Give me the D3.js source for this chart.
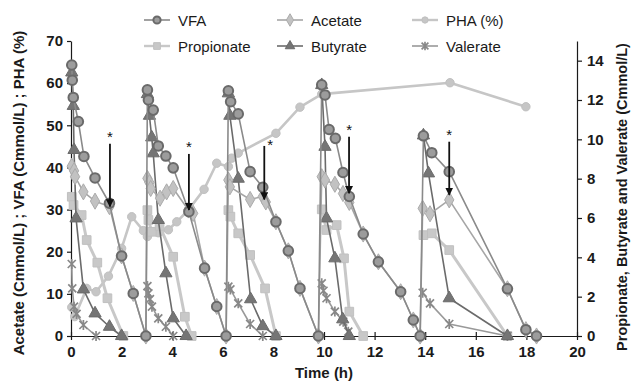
<!DOCTYPE html>
<html>
<head>
<meta charset="utf-8">
<script src="https://cdn.jsdelivr.net/npm/d3@7"></script>
<style>
  body { margin: 0; background: #fff; }
  svg { font-family: "Liberation Sans", Arial, sans-serif; }
  .axis text { font-size: 15px; font-weight: bold; fill: #1a1a1a; }
  .axis path, .axis line { stroke: #1a1a1a; stroke-width: 1.2; }
  .title { font-size: 15px; font-weight: bold; fill: #1a1a1a; }
  .legend text { font-size: 15px; fill: #1a1a1a; }
</style>
</head>
<body>
<div id="chart"></div>
<script>
// --- data (time h, value) ---
// left axis series
const vfa = [
  [0.03, 64.3], [0.05, 60.7], [0.09, 56.6], [0.29, 50.9], [0.51, 42.6], [0.95, 37.5], [1.52, 31.5],
  [2.0, 19.0], [2.46, 10.1], [2.96, 0],
  [3.02, 58.4], [3.06, 56.0], [3.25, 53.6], [3.45, 45.1], [3.75, 42.7], [4.04, 39.9], [4.66, 29.5],
  [5.28, 16.1], [5.76, 7.0], [6.13, 0],
  [6.22, 58.2], [6.31, 55.6], [6.61, 52.7], [7.08, 39.0], [7.58, 35.3], [8.1, 27.1], [8.59, 20.2],
  [9.05, 11.3], [9.78, 0],
  [9.91, 59.6], [10.04, 57.2], [10.2, 49.0], [10.45, 46.9], [10.75, 38.8], [11.0, 33.1],
  [11.55, 24.2], [12.15, 17.6], [13.03, 10.5], [13.53, 3.8], [13.8, 0],
  [13.93, 47.5], [14.26, 43.5], [14.95, 39.0], [17.25, 11.2], [17.98, 1.5], [18.4, 0]
];
const acetate = [
  [0.03, 40.3], [0.12, 39.2], [0.16, 37.8], [0.49, 34.2], [0.95, 32.0], [1.52, 30.7],
  [2.0, 19.0], [2.46, 10.1], [2.96, 0],
  [3.02, 37.4], [3.1, 36.4], [3.15, 35.0], [3.52, 32.7], [3.78, 34.2], [4.04, 35.0], [4.64, 29.9],
  [4.83, 29.1], [5.28, 16.1], [5.76, 7.0], [6.13, 0],
  [6.22, 37.0], [6.28, 35.4], [7.08, 32.4], [7.58, 33.1], [7.7, 31.8], [8.1, 27.1], [8.59, 20.2],
  [9.05, 11.3], [9.78, 0],
  [9.91, 37.8], [10.04, 37.0], [10.43, 36.0], [10.75, 33.8], [11.0, 31.7],
  [11.55, 24.2], [12.15, 17.6], [13.03, 10.5], [13.53, 3.8], [13.8, 0],
  [13.9, 30.3], [14.19, 29.0], [14.95, 32.3], [17.25, 11.2], [17.98, 1.5], [18.4, 0]
];
const pha = [
  [0.03, 6.8], [0.15, 4.6], [0.62, 11.3], [0.99, 10.5], [1.48, 14.2], [2.0, 20.8], [2.4, 28.3],
  [2.86, 25.0], [3.02, 23.6], [3.45, 24.5], [3.85, 25.2], [4.18, 27.1], [4.64, 29.9], [5.26, 34.8],
  [5.76, 41.0], [6.22, 40.2], [6.35, 42.2], [6.61, 43.4], [8.1, 48.1], [9.05, 54.3], [9.91, 57.4],
  [14.98, 60.1], [17.98, 54.4]
];
// right axis series, one list per feeding cycle
const propionate = [
  [[0.03, 7.08], [0.1, 6.66], [0.42, 6.15], [0.62, 4.88], [1.04, 3.73], [1.44, 1.92], [2.07, 0]],
  [[3.02, 6.4], [3.06, 5.9], [3.19, 5.3], [3.5, 5.6], [4.04, 4.03], [4.5, 0.98], [4.77, 0]],
  [[6.22, 6.4], [6.3, 6.07], [6.61, 5.22], [7.08, 4.12], [7.67, 2.42], [8.1, 0]],
  [[9.91, 6.44], [10.1, 5.39], [10.5, 5.64], [10.79, 3.95], [11.0, 1.24], [11.55, 0]],
  [[13.93, 5.13], [14.26, 5.22], [14.95, 4.37], [17.25, 0]]
];
const butyrate = [
  [[0.03, 13.4], [0.09, 11.7], [0.12, 9.46], [0.2, 5.98], [0.49, 2.37], [0.95, 1.15], [1.52, 0.47], [2.0, 0]],
  [[3.02, 12.3], [3.1, 11.2], [3.19, 10.1], [3.25, 9.29], [3.45, 5.9], [3.75, 3.19], [4.04, 0.9], [4.55, 0]],
  [[6.22, 12.34], [6.28, 11.2], [6.61, 8.0], [7.1, 1.87], [7.58, 0.5], [8.1, 0]],
  [[9.91, 12.76], [10.04, 9.62], [10.1, 5.98], [10.43, 3.95], [10.74, 0.85], [11.0, 0]],
  [[13.93, 10.2], [14.13, 8.27], [14.95, 1.92], [17.25, 0]]
];
const valerate = [
  [[0.03, 3.66], [0.05, 2.42], [0.12, 1.49], [0.22, 1.12], [0.49, 0.56], [0.99, 0]],
  [[3.02, 2.54], [3.06, 2.17], [3.12, 1.87], [3.2, 1.49], [3.45, 0.9], [3.75, 0.47], [4.04, 0]],
  [[6.22, 2.51], [6.3, 2.37], [6.61, 1.66], [7.08, 0.61], [7.58, 0]],
  [[9.91, 2.68], [9.98, 2.3], [10.1, 1.92], [10.43, 1.24], [10.76, 0.73], [10.96, 0.22]],
  [[13.9, 2.2], [14.19, 1.66], [14.95, 0.61], [17.25, 0]]
];
// sampling arrows (time, from value, to value) on left axis
const arrows = [[1.54, 45.6, 30.7], [4.66, 43.2, 29.9], [7.64, 45.1, 32.4], [10.99, 47.3, 33.9], [14.95, 46.1, 33.5]];

const xTicks = d3.range(0, 21, 2);
const yLeftTicks = d3.range(0, 71, 10);
const yRightTicks = d3.range(0, 15, 2);

const W = 633, H = 384;
const margin = { top: 41, right: 56, bottom: 48, left: 71 };

const svg = d3.select('#chart').append('svg')
  .attr('width', W).attr('height', H);

const x = d3.scaleLinear().domain([0, 20]).range([margin.left, W - margin.right]);
const yL = d3.scaleLinear().domain([0, 70]).range([H - margin.bottom, margin.top]);
const yR = d3.scaleLinear().domain([0, 15]).range([H - margin.bottom, margin.top]);

// axes
const gx = svg.append('g').attr('class', 'axis')
  .attr('transform', `translate(0,${H - margin.bottom})`)
  .call(d3.axisBottom(x).tickValues(xTicks).tickSize(4).tickPadding(6).tickSizeOuter(0));
gx.selectAll('.tick line').attr('y1', -4);

svg.append('g').attr('class', 'axis')
  .attr('transform', `translate(${margin.left},0)`)
  .call(d3.axisLeft(yL).tickValues(yLeftTicks).tickSize(4).tickPadding(4).tickSizeOuter(0));

svg.append('g').attr('class', 'axis')
  .attr('transform', `translate(${W - margin.right},0)`)
  .call(d3.axisRight(yR).tickValues(yRightTicks).tickSize(5).tickPadding(5).tickSizeOuter(0));

// axis titles
svg.append('text').attr('class', 'title')
  .attr('x', x(10)).attr('y', H - 6)
  .attr('text-anchor', 'middle').text('Time (h)');
svg.append('text').attr('class', 'title')
  .attr('transform', `translate(24,${193}) rotate(-90)`)
  .attr('text-anchor', 'middle').text('Acetate (Cmmol/L) ; VFA (Cmmol/L) ; PHA (%)');
svg.append('text').attr('class', 'title')
  .style('font-size', '14.5px')
  .attr('transform', `translate(627,${197}) rotate(-90)`)
  .attr('text-anchor', 'middle').text('Propionate, Butyrate and Valerate (Cmmol/L)');

// markers
const asteriskPath = s => {
  const a = s * 0.8, b = s;
  return `M${-a},${-a}L${a},${a}M${-a},${a}L${a},${-a}M0,${-b}L0,${b}`;
};
const styles = {
  vfa: { line: '#8a8a8a', lw: 1.6, fill: '#9c9c9c', stroke: '#6a6a6a', sw: 2, shape: 'circle', size: 4.8 },
  acetate: { line: '#a6a6a6', lw: 1.6, fill: '#c2c2c2', stroke: '#ababab', sw: 1, shape: 'diamond', size: 75 },
  pha: { line: '#c6c6c6', lw: 2.6, fill: '#c6c6c6', stroke: '#c0c0c0', sw: 1, shape: 'circle', size: 4.2 },
  propionate: { line: '#c8c8c8', lw: 3, fill: '#c8c8c8', stroke: '#c0c0c0', sw: 1, shape: 'square', size: 75 },
  butyrate: { line: '#6b6b6b', lw: 1.6, fill: '#757575', stroke: '#6b6b6b', sw: 1, shape: 'triangle', size: 65 },
  valerate: { line: '#999999', lw: 1.6, fill: 'none', stroke: '#888888', sw: 1.7, shape: 'asterisk', size: 5 }
};

function drawMarker(g, st) {
  if (st.shape === 'circle') {
    return g.append('circle').attr('r', st.size)
      .attr('fill', st.fill).attr('stroke', st.stroke).attr('stroke-width', st.sw);
  }
  let d;
  if (st.shape === 'asterisk') d = asteriskPath(st.size);
  else if (st.shape === 'diamond') d = d3.symbol(d3.symbolDiamond, st.size)();
  else if (st.shape === 'square') d = d3.symbol(d3.symbolSquare, st.size)();
  else d = d3.symbol(d3.symbolTriangle, st.size)();
  return g.append('path').attr('d', d)
    .attr('fill', st.fill).attr('stroke', st.stroke).attr('stroke-width', st.sw);
}

function drawSeries(segments, y, st) {
  const line = d3.line().x(d => x(d[0])).y(d => y(d[1]));
  const g = svg.append('g');
  segments.forEach(seg => {
    g.append('path').attr('d', line(seg))
      .attr('fill', 'none').attr('stroke', st.line).attr('stroke-width', st.lw)
      .attr('stroke-linejoin', 'round');
  });
  segments.forEach(seg => {
    seg.forEach(d => {
      const m = g.append('g').attr('transform', `translate(${x(d[0])},${y(d[1])})`);
      drawMarker(m, st);
    });
  });
}

drawSeries([pha], yL, styles.pha);
drawSeries(propionate, yR, styles.propionate);
drawSeries(valerate, yR, styles.valerate);
drawSeries(butyrate, yR, styles.butyrate);
drawSeries([acetate], yL, styles.acetate);
drawSeries([vfa], yL, styles.vfa);

// arrows with asterisk
svg.append('defs').append('marker')
  .attr('id', 'ah').attr('viewBox', '0 0 10 10')
  .attr('refX', 9).attr('refY', 5)
  .attr('markerWidth', 4.5).attr('markerHeight', 4.5)
  .attr('markerUnits', 'strokeWidth')
  .attr('orient', 'auto')
  .append('path').attr('d', 'M0,0L10,5L0,10Z').attr('fill', '#111');

const ag = svg.append('g');
arrows.forEach((a, i) => {
  ag.append('line')
    .attr('x1', x(a[0])).attr('x2', x(a[0]))
    .attr('y1', yL(a[1])).attr('y2', yL(a[2]))
    .attr('stroke', '#111').attr('stroke-width', 1.8)
    .attr('marker-end', 'url(#ah)');
  ag.append('text')
    .attr('x', x(a[0]) + (i === 2 ? 6 : 0)).attr('y', yL(a[1]) + (i === 2 ? 4 : -2))
    .attr('text-anchor', 'middle')
    .style('font-size', '15px').style('fill', '#111')
    .text('*');
});

// legend
const legendItems = [
  ['VFA', 'vfa', 157, 20], ['Acetate', 'acetate', 290, 20], ['PHA (%)', 'pha', 425, 20],
  ['Propionate', 'propionate', 157, 46], ['Butyrate', 'butyrate', 290, 46], ['Valerate', 'valerate', 425, 46]
];
const lg = svg.append('g').attr('class', 'legend');
legendItems.forEach(([label, key, lx, ly]) => {
  const st = styles[key];
  const it = lg.append('g').attr('transform', `translate(${lx},${ly})`);
  it.append('line').attr('x1', -13).attr('x2', 13)
    .attr('stroke', st.line).attr('stroke-width', Math.min(st.lw, 2.4));
  const m = it.append('g');
  drawMarker(m, Object.assign({}, st, {
    size: st.shape === 'circle' ? st.size * 0.75 : st.shape === 'asterisk' ? st.size * 0.85 : st.size * 0.6
  }));
  it.append('text').attr('x', 21).attr('y', 5.5).text(label);
});
</script>
</body>
</html>
